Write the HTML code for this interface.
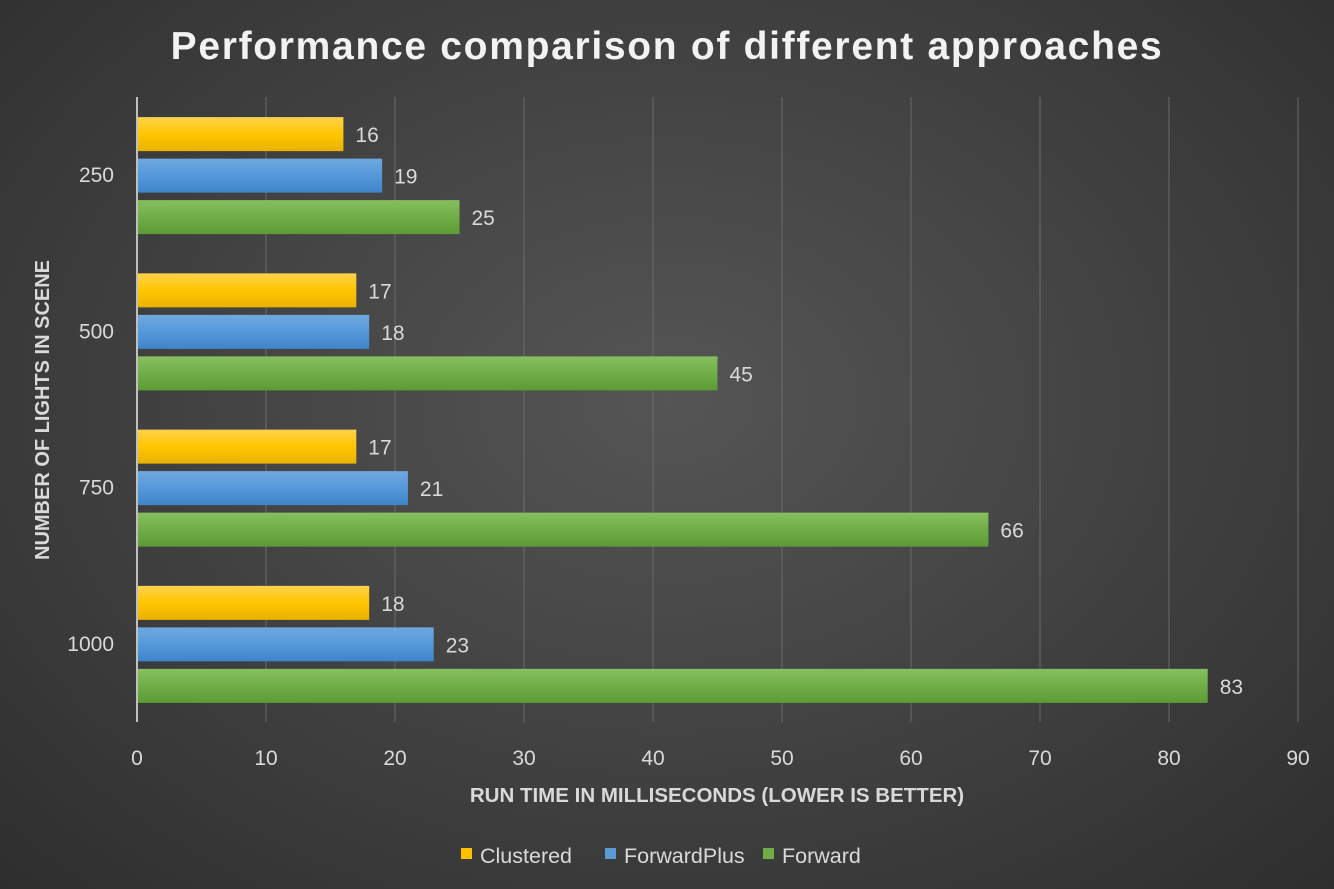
<!DOCTYPE html>
<html><head><meta charset="utf-8"><style>
body{margin:0;width:1334px;height:889px;overflow:hidden;background:radial-gradient(ellipse at 50% 45%,#555 0%,#464646 40%,#2e2e2e 100%);font-family:"Liberation Sans",sans-serif;}
svg{display:block}
</style></head><body>
<svg id="chart" width="1334" height="889" xmlns="http://www.w3.org/2000/svg">
<defs>
<linearGradient id="gY" x1="0" y1="0" x2="0" y2="1"><stop offset="0" stop-color="#ffd24d"/><stop offset="0.5" stop-color="#ffc600"/><stop offset="1" stop-color="#e8b200"/></linearGradient>
<linearGradient id="gB" x1="0" y1="0" x2="0" y2="1"><stop offset="0" stop-color="#6fa8e0"/><stop offset="0.5" stop-color="#5599db"/><stop offset="1" stop-color="#3f84c9"/></linearGradient>
<linearGradient id="gG" x1="0" y1="0" x2="0" y2="1"><stop offset="0" stop-color="#86c060"/><stop offset="0.5" stop-color="#70ad47"/><stop offset="1" stop-color="#5d9c35"/></linearGradient>
</defs>
<text x="667" y="59" text-anchor="middle" fill="#f2f2f2" font-size="39" font-weight="bold" letter-spacing="1.7">Performance comparison of different approaches</text>
<g id="grid"></g><g id="bars"></g><g id="labels"></g>
<text x="717" y="802" text-anchor="middle" fill="#d9d9d9" font-size="20.5" font-weight="bold">RUN TIME IN MILLISECONDS (LOWER IS BETTER)</text>
<text transform="translate(49,410) rotate(-90)" text-anchor="middle" fill="#d9d9d9" font-size="20" font-weight="bold">NUMBER OF LIGHTS IN SCENE</text>
<g id="legend"></g>
</svg>
<script>
const categories=["250","500","750","1000"];
const seriesNames=["Clustered","ForwardPlus","Forward"];
const clustered=[16,17,17,18];
const forwardPlus=[19,18,21,23];
const forward=[25,45,66,83];
const xTicks=[0,10,20,30,40,50,60,70,80,90];
{
const NS="http://www.w3.org/2000/svg";
const x0=137,x1=1298,xMax=90,plotTop=97,plotBottom=722;
const X=v=>x0+(x1-x0)*v/xMax;
const band=(plotBottom-plotTop)/categories.length;
const fills=["url(#gY)","url(#gB)","url(#gG)"];
const legendColors=["#ffc000","#5b9bd5","#70ad47"];
const data=[clustered,forwardPlus,forward];
function mk(t,a,p){const e=document.createElementNS(NS,t);for(const k in a)e.setAttribute(k,a[k]);p.appendChild(e);return e;}
const grid=document.getElementById('grid'),bars=document.getElementById('bars'),labels=document.getElementById('labels'),legend=document.getElementById('legend');
xTicks.forEach(t=>{
 const l=mk('line',{x1:X(t),x2:X(t),y1:plotTop,y2:plotBottom,stroke:t===0?'#bfbfbf':'#6a6a6a','stroke-width':t===0?2:1},grid);
 
 
 const tx=mk('text',{x:X(t),y:765,'text-anchor':'middle',fill:'#d9d9d9','font-size':21},labels);
 tx.textContent=t;
 
 
});
categories.forEach((c,i)=>{
 const cy=plotTop+band*i+band/2;
 const ct=mk('text',{x:114,y:cy+7,'text-anchor':'end',fill:'#d9d9d9','font-size':21},labels);
 ct.textContent=c;
 
 
 data.forEach((s,j)=>{
  const h=34,y=cy-58+j*41.5;
  const r=mk('rect',{x:X(0)+1,y:y,width:X(s[i])-X(0)-1,height:h,fill:fills[j]},bars);
  
  
  const v=mk('text',{x:X(s[i])+12,y:y+h/2+8,fill:'#d9d9d9','font-size':21},labels);
  v.textContent=s[i];
  
  
 });
});
const lx=[461,605,763];
seriesNames.forEach((n,j)=>{
 const g=mk('g',{},legend);
 
 
 mk('rect',{x:lx[j],y:848,width:11,height:11,fill:legendColors[j]},g);
 const t=mk('text',{x:lx[j]+19,y:863,fill:'#d9d9d9','font-size':21.5},g);
 t.textContent=n;
});
}
</script>
</body></html>
